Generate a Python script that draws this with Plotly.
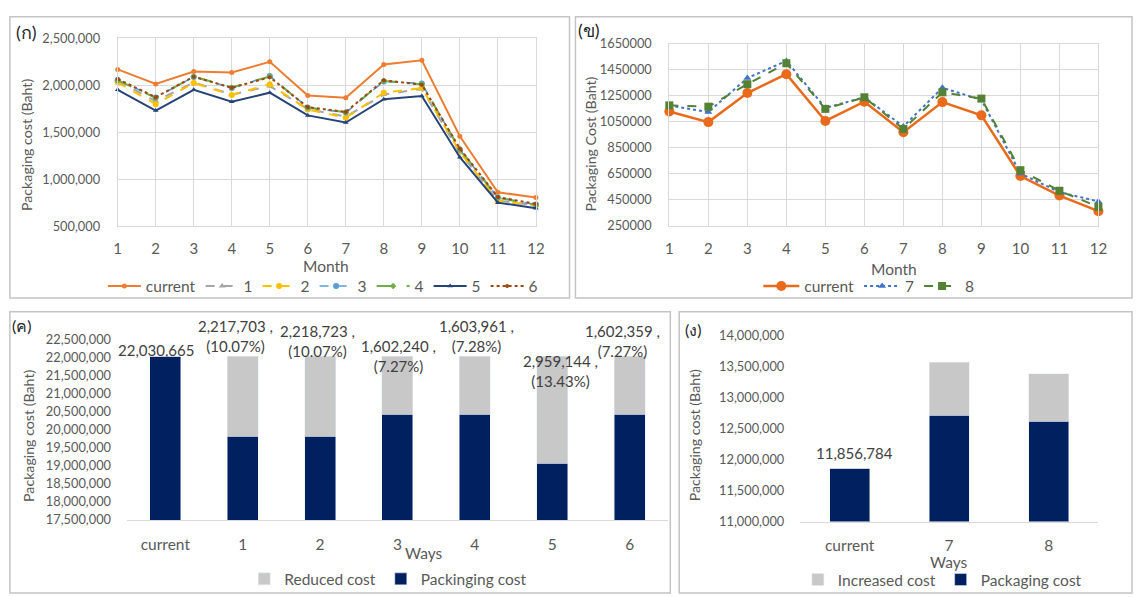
import plotly.graph_objects as go

W, H = 1143, 597

# ---------------- data ----------------
months = list(range(1, 13))
month_labels = [str(m) for m in months]

# Panel (ก) monthly packaging cost (Baht)
cost_current_a = [2168000, 2013000, 2145000, 2134000, 2248000, 1889000, 1865000, 2220000, 2265000, 1456000, 860000, 804000]
cost_way1 = [2045000, 1830000, 2030000, 1900000, 1990000, 1745000, 1665000, 1900000, 1960000, 1280000, 770000, 720000]
cost_way2 = [2030000, 1798000, 2023000, 1896000, 2010000, 1740000, 1653000, 1920000, 1969000, 1290000, 766000, 720000]
cost_way3 = [2055000, 1868000, 2088000, 1970000, 2098000, 1762000, 1708000, 2040000, 2018000, 1312000, 805000, 728000]
cost_way4 = [2050000, 1865000, 2092000, 1975000, 2092000, 1760000, 1712000, 2045000, 2010000, 1318000, 800000, 726000]
cost_way5 = [1951000, 1730000, 1951000, 1823000, 1920000, 1678000, 1602000, 1850000, 1885000, 1233000, 749000, 690000]
cost_way6 = [2065000, 1872000, 2090000, 1972000, 2085000, 1765000, 1715000, 2052000, 2005000, 1325000, 808000, 735000]

# Panel (ข) monthly packaging cost (Baht)
cost_current_b = [1129000, 1047000, 1271000, 1416000, 1056000, 1204000, 969000, 1201000, 1099000, 632000, 482000, 362000]
cost_way7 = [1174000, 1124000, 1386000, 1518000, 1156000, 1238000, 1014000, 1311000, 1219000, 652000, 508000, 437000]
cost_way8 = [1176000, 1166000, 1339000, 1500000, 1149000, 1238000, 994000, 1276000, 1228000, 677000, 519000, 395000]

# Panel (ค) yearly totals
ways_c = ["current", "1", "2", "3", "4", "5", "6"]
packaging_cost_c = [22030665, 19812962, 19811942, 20428425, 20426704, 19071521, 20428306]
reduced_cost_c = [0, 2217703, 2218723, 1602240, 1603961, 2959144, 1602359]
pct_c = ["", "(10.07%)", "(10.07%)", "(7.27%)", "(7.28%)", "(13.43%)", "(7.27%)"]

# Panel (ง) yearly totals
ways_d = ["current", "7", "8"]
packaging_cost_d = [11856784, 12712837, 12619488]
increased_cost_d = [0, 856053, 762704]
pct_d = ["", "(7.22%)", "(6.43%)"]

# ---------------- styling helpers ----------------
FONT = "Lato, 'Open Sans', sans-serif"
TXT = "#595959"
GRID = "#d9d9d9"
NAVY = "#002060"
LGRAY = "#c8c8c8"
NOTICK = "rgba(0,0,0,0)"


def fx(x):
    return x / W


def fy(y):
    return 1 - y / H


fig = go.Figure()

# ---------------- panel (ก) lines ----------------
line_specs_a = [
    ("current", cost_current_a, "#ED7D31", "solid", "circle", 5, 2),
    ("1", cost_way1, "#A5A5A5", "dash", "triangle-up", 6, 2),
    ("2", cost_way2, "#FFC000", "dash", "circle", 6, 2),
    ("3", cost_way3, "#5B9BD5", "dash", "circle", 6, 1.6),
    ("4", cost_way4, "#70AD47", "longdash", "diamond", 5, 2),
    ("5", cost_way5, "#264478", "solid", "triangle-up", 5, 2),
    ("6", cost_way6, "#9E480E", "dot", "circle", 4, 2),
]
for name, vals, col, dash, sym, msz, lw in line_specs_a:
    fig.add_trace(go.Scatter(
        x=months, y=vals, name=name, mode="lines+markers",
        line=dict(color=col, width=lw, dash=dash),
        marker=dict(symbol=sym, size=msz, color=col),
        xaxis="x", yaxis="y", legend="legend", cliponaxis=False))

# ---------------- panel (ข) lines ----------------
line_specs_b = [
    ("current", cost_current_b, "#EA6A1C", "solid", "circle", 10, 2.5),
    ("7", cost_way7, "#4472C4", "dot", "triangle-up", 7, 2),
    ("8", cost_way8, "#548235", "dash", "square", 8, 2),
]
for name, vals, col, dash, sym, msz, lw in line_specs_b:
    fig.add_trace(go.Scatter(
        x=months, y=vals, name=name, mode="lines+markers",
        line=dict(color=col, width=lw, dash=dash),
        marker=dict(symbol=sym, size=msz, color=col),
        xaxis="x2", yaxis="y2", legend="legend2", cliponaxis=False))

# ---------------- panel (ค) bars ----------------
fig.add_trace(go.Bar(x=ways_c, y=packaging_cost_c, name="Packinging cost",
                     marker=dict(color=NAVY), xaxis="x3", yaxis="y3", legend="legend3"))
fig.add_trace(go.Bar(x=ways_c, y=reduced_cost_c, name="Reduced cost",
                     marker=dict(color=LGRAY), xaxis="x3", yaxis="y3", legend="legend3"))

# ---------------- panel (ง) bars ----------------
fig.add_trace(go.Bar(x=ways_d, y=packaging_cost_d, name="Packaging cost",
                     marker=dict(color=NAVY), xaxis="x4", yaxis="y4", legend="legend4"))
fig.add_trace(go.Bar(x=ways_d, y=increased_cost_d, name="Increased cost",
                     marker=dict(color=LGRAY), xaxis="x4", yaxis="y4", legend="legend4"))

# ---------------- data labels ----------------
annotations = []
label_shift_c = [(-9, 6), (-7, 20), (-3, 15), (1, 0), (2, 20), (8, -15), (-7, 15)]
for i, w in enumerate(ways_c):
    total = packaging_cost_c[i] + reduced_cost_c[i]
    if reduced_cost_c[i]:
        txt = f"{reduced_cost_c[i]:,} ,<br>{pct_c[i]}"
    else:
        txt = f"{packaging_cost_c[i]:,}"
    dx, dy = label_shift_c[i]
    annotations.append(dict(x=w, y=total, xref="x3", yref="y3", text=txt, showarrow=False,
                            xshift=dx, yshift=dy, yanchor="middle", align="center",
                            font=dict(size=15, color="#404040", family=FONT)))

label_shift_d = [(5, 15), (4, 25), (1, 24)]
for i, w in enumerate(ways_d):
    total = packaging_cost_d[i] + increased_cost_d[i]
    if increased_cost_d[i]:
        txt = f"{increased_cost_d[i]:,} ,<br>{pct_d[i]}"
    else:
        txt = f"{packaging_cost_d[i]:,}"
    dx, dy = label_shift_d[i]
    annotations.append(dict(x=w, y=total, xref="x4", yref="y4", text=txt, showarrow=False,
                            xshift=dx, yshift=dy, yanchor="middle", align="center",
                            font=dict(size=15, color="#404040", family=FONT)))

# ---------------- axis titles / panel tags ----------------
def text_ann(x, y, text, size=15.5, angle=0, color=TXT):
    return dict(x=fx(x), y=fy(y), xref="paper", yref="paper", text=text, showarrow=False,
                textangle=angle, xanchor="center", yanchor="middle",
                font=dict(size=size, color=color, family=FONT))

annotations += [
    text_ann(326, 264, "Month"),
    text_ann(900, 267, "Month"),
    text_ann(425, 559, "Ways"),
    text_ann(956, 568, "Ways"),
    text_ann(22, 140, "Packaging cost (Baht)", size=14.2, angle=-90),
    text_ann(593, 139, "Packaging Cost (Baht)", size=14.2, angle=-90),
    text_ann(25, 439, "Packaging cost (Baht)", size=14.2, angle=-90),
    text_ann(698, 438, "Packaging cost (Baht)", size=14.2, angle=-90),
    text_ann(23, 24, "(ก)", size=18, color="#262626"),
    text_ann(592, 22, "(ข)", size=18, color="#262626"),
    text_ann(18, 325, "(ค)", size=16, color="#262626"),
    text_ann(697, 329, "(ง)", size=16, color="#262626"),
]

# ---------------- panel frames ----------------
shapes = []
for x0, y0, x1, y1 in [(6, 8, 572, 297), (578, 8, 1141, 297), (6, 311, 674, 600), (683, 311, 1141, 600)]:
    shapes.append(dict(type="rect", xref="paper", yref="paper", x0=fx(x0), x1=fx(x1),
                       y0=fy(y1), y1=fy(y0), line=dict(color="#c4c4c4", width=1.5),
                       fillcolor="rgba(0,0,0,0)", layer="below"))

line_axis_x = dict(showgrid=True, gridcolor=GRID, gridwidth=1, zeroline=False,
                   showline=True, linecolor=GRID, mirror=True,
                   tickfont=dict(size=15, color=TXT, family=FONT), ticklabelstandoff=9)
line_axis_y = dict(showgrid=True, gridcolor=GRID, gridwidth=1, zeroline=False,
                   showline=True, linecolor=GRID, mirror=True,
                   ticks="outside", ticklen=14, tickcolor=NOTICK,
                   tickfont=dict(size=12.8, color=TXT, family=FONT))
bar_axis_x = dict(type="category", showgrid=False, zeroline=False, showline=True,
                  linecolor=GRID, tickfont=dict(size=15.5, color=TXT, family=FONT),
                  ticklabelstandoff=10, tickangle=0)
bar_axis_y = dict(showgrid=False, zeroline=False, showline=False, tickformat=",",
                  ticks="outside", ticklen=12, tickcolor=NOTICK,
                  tickfont=dict(size=12.8, color=TXT, family=FONT))

legend_common = dict(orientation="h", bgcolor="rgba(0,0,0,0)", yanchor="middle", xanchor="left",
                     font=dict(size=15.5, color=TXT, family=FONT), itemclick=False)

fig.update_layout(
    width=W, height=H, autosize=False,
    margin=dict(l=0, r=0, t=0, b=0),
    paper_bgcolor="white", plot_bgcolor="white",
    font=dict(family=FONT, color=TXT),
    barmode="stack", bargap=0.6,
    xaxis=dict(domain=[fx(115), fx(538)], anchor="y", range=[1, 12],
               tickvals=months, ticktext=month_labels, **line_axis_x),
    yaxis=dict(domain=[fy(223), fy(30)], anchor="x", range=[500000, 2500000],
               dtick=500000, tickformat=",", **line_axis_y),
    xaxis2=dict(domain=[fx(673), fx(1107)], anchor="y2", range=[1, 12],
                tickvals=months, ticktext=month_labels, **line_axis_x),
    yaxis2=dict(domain=[fy(222.7), fy(35.7)], anchor="x2", range=[250000, 1650000],
                tick0=250000, dtick=200000, tickformat="d", **line_axis_y),
    xaxis3=dict(domain=[fx(124), fx(672)], anchor="y3", range=[-0.5, len(ways_c) - 0.5],
                **bar_axis_x),
    yaxis3=dict(domain=[fy(525), fy(339.3)], anchor="x3", range=[17500000, 22500000],
                dtick=500000, **bar_axis_y),
    xaxis4=dict(domain=[fx(805), fx(1107)], anchor="y4", range=[-0.5, len(ways_d) - 0.5],
                **bar_axis_x),
    yaxis4=dict(domain=[fy(526.7), fy(335.7)], anchor="x4", range=[11000000, 14000000],
                dtick=500000, **bar_axis_y),
    legend=dict(x=fx(100), y=fy(285), itemwidth=33, **legend_common),
    legend2=dict(x=fx(763), y=fy(285), itemwidth=36, **legend_common),
    legend3=dict(x=fx(243), y=fy(586), traceorder="reversed", **legend_common),
    legend4=dict(x=fx(803), y=fy(587), traceorder="reversed", **legend_common),
    annotations=annotations,
    shapes=shapes,
)

fig.write_html(
    "out.html",
    config={"displayModeBar": False},
    post_script="document.body.style.margin='0';document.body.style.overflow='hidden';",
)
